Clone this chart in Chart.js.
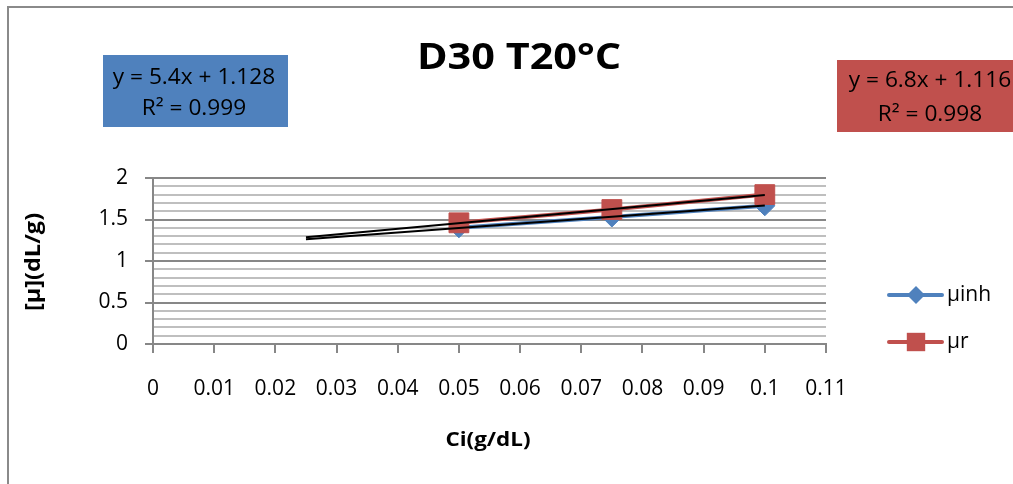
<!DOCTYPE html>
<html>
<head>
<meta charset="utf-8">
<script src="https://cdn.jsdelivr.net/npm/chart.js@4.4.0/dist/chart.umd.min.js"></script>
<style>
  body { margin: 0; background: #fff; }
  #wrap { width: 1013px; height: 484px; }
</style>
</head>
<body>
<div id="wrap"><canvas id="myChart" width="1013" height="484"></canvas></div>
<script>

// data
var ciValues = [0.05, 0.075, 0.1];
var inhValues = [1.40, 1.53, 1.665];
var rValues = [1.46, 1.62, 1.80];

// trend lines (forecast back to 0.025)
var trendX = [0.025, 0.1];
var inhTrendY = [1.263, 1.668];
var rTrendY = [1.286, 1.796];

var xTickLabels = ["0", "0.01", "0.02", "0.03", "0.04", "0.05", "0.06", "0.07", "0.08", "0.09", "0.1", "0.11"];
var yTickLabels = ["0", "0.5", "1", "1.5", "2"];

var inhFitText = ["y = 5.4x + 1.128", "R\u00b2 = 0.999"];
var rFitText = ["y = 6.8x + 1.116", "R\u00b2 = 0.998"];

var blue = "#4F81BD";
var red = "#C0504D";
var gridDark = "#878787";
var gridLight = "#BFBFBF";

function toPoints(xs, ys) {
	var pts = [];
	for (var i = 0; i < xs.length; i++) {
		pts.push({x: xs[i], y: ys[i]});
	}
	return pts;
}

function isMajor(v) {
	return Math.abs(v * 2 - Math.round(v * 2)) < 1e-6;
}

//draw the text that is not part of the scales
function stretchText(ctx, text, x, y, font, sx) {
	ctx.save();
	ctx.font = font;
	ctx.translate(x, y);
	ctx.scale(sx, 1);
	ctx.fillText(text, 0, 0);
	ctx.restore();
}

var decor = {
	id: "decor",
	afterDraw: function(chart) {
		var ctx = chart.ctx;
		ctx.save();

		//outer frame
		ctx.strokeStyle = "#8A8A8A";
		ctx.lineWidth = 2;
		ctx.strokeRect(8, 7, 1200, 700);

		//title
		ctx.fillStyle = "#000";
		ctx.textAlign = "center";
		ctx.textBaseline = "middle";
		stretchText(ctx, "D30 T20\u00b0C", 519, 59, "bold 36px 'Open Sans'", 1.15);

		//axis titles
		stretchText(ctx, "Ci(g/dL)", 488, 440, "bold 20px 'Open Sans'", 1.12);
		ctx.save();
		ctx.translate(34, 262);
		ctx.rotate(-Math.PI / 2);
		ctx.scale(1.12, 1);
		ctx.font = "bold 21px 'Open Sans'";
		ctx.fillText("[\u00b5](dL/g)", 0, 0);
		ctx.restore();

		//equation boxes
		ctx.fillStyle = blue;
		ctx.fillRect(103, 55, 185, 72);
		ctx.fillStyle = red;
		ctx.fillRect(837, 60, 200, 72);
		ctx.fillStyle = "#000";
		stretchText(ctx, inhFitText[0], 194, 78, "21px 'Open Sans'", 1.08);
		stretchText(ctx, inhFitText[1], 194, 109, "21px 'Open Sans'", 1.08);
		stretchText(ctx, rFitText[0], 930, 81, "21px 'Open Sans'", 1.08);
		stretchText(ctx, rFitText[1], 930, 115, "21px 'Open Sans'", 1.08);

		//legend
		var items = [
			{label: "\u00b5inh", color: blue, style: "rectRot", r: 9, y: 295},
			{label: "\u00b5r", color: red, style: "rect", r: 13, y: 342}
		];
		for (var i = 0; i < items.length; i++) {
			var it = items[i];
			ctx.strokeStyle = it.color;
			ctx.lineWidth = 4;
			ctx.lineCap = "round";
			ctx.beginPath();
			ctx.moveTo(889, it.y);
			ctx.lineTo(942, it.y);
			ctx.stroke();
			ctx.fillStyle = it.color;
			Chart.helpers.drawPoint(ctx, {pointStyle: it.style, radius: it.r, rotation: 0, borderWidth: 0}, 916, it.y);
			ctx.fillStyle = "#000";
			ctx.textAlign = "left";
			ctx.font = "21px 'Open Sans'";
			ctx.fillText(it.label, 947, it.y);
		}
		ctx.restore();
	}
};

var ctx = document.getElementById("myChart");
var myChart = new Chart(ctx, {
	type: "scatter",
	data: {
		datasets: [{
			label: "inh trend",
			data: toPoints(trendX, inhTrendY),
			showLine: true,
			borderColor: "#000",
			borderWidth: 2,
			pointRadius: 0,
			order: 0
		}, {
			label: "r trend",
			data: toPoints(trendX, rTrendY),
			showLine: true,
			borderColor: "#000",
			borderWidth: 2,
			pointRadius: 0,
			order: 0
		}, {
			label: "\u00b5r",
			data: toPoints(ciValues, rValues),
			showLine: true,
			borderColor: red,
			backgroundColor: red,
			borderWidth: 4,
			pointStyle: "rect",
			pointRadius: 14,
			pointBorderWidth: 1,
			order: 1
		}, {
			label: "\u00b5inh",
			data: toPoints(ciValues, inhValues),
			showLine: true,
			borderColor: blue,
			backgroundColor: blue,
			borderWidth: 4,
			pointStyle: "rectRot",
			pointRadius: 10,
			pointBorderWidth: 1,
			order: 2
		}]
	},
	options: {
		responsive: false,
		animation: false,
		layout: {
			padding: {left: 0, top: 178, right: 187, bottom: 0}
		},
		plugins: {
			legend: {display: false},
			tooltip: {enabled: false}
		},
		scales: {
			x: {
				type: "linear",
				min: 0,
				max: 0.11,
				afterFit: function(scale) { scale.height = 140; },
				ticks: {
					stepSize: 0.01,
					autoSkip: false,
					maxRotation: 0,
					padding: 23,
					color: "#000",
					font: {family: "'Open Sans'", size: 21},
					callback: function(value, index) { return xTickLabels[index]; }
				},
				grid: {
					drawOnChartArea: false,
					tickLength: 9,
					color: gridDark,
					lineWidth: 2
				},
				border: {color: gridDark, width: 2}
			},
			y: {
				min: 0,
				max: 2,
				afterFit: function(scale) { scale.width = 153; },
				ticks: {
					stepSize: 0.1,
					autoSkip: false,
					padding: 17,
					color: "#000",
					font: {family: "'Open Sans'", size: 21},
					callback: function(value) {
						if (!isMajor(value)) return "";
						return yTickLabels[Math.round(value * 2)];
					}
				},
				grid: {
					tickLength: 8,
					color: function(c) { return isMajor(c.tick.value) ? gridDark : gridLight; },
					tickColor: function(c) { return isMajor(c.tick.value) ? gridDark : "rgba(0,0,0,0)"; },
					lineWidth: 2
				},
				border: {color: gridDark, width: 2}
			}
		}
	},
	plugins: [decor]
});
</script>
</body>
</html>
